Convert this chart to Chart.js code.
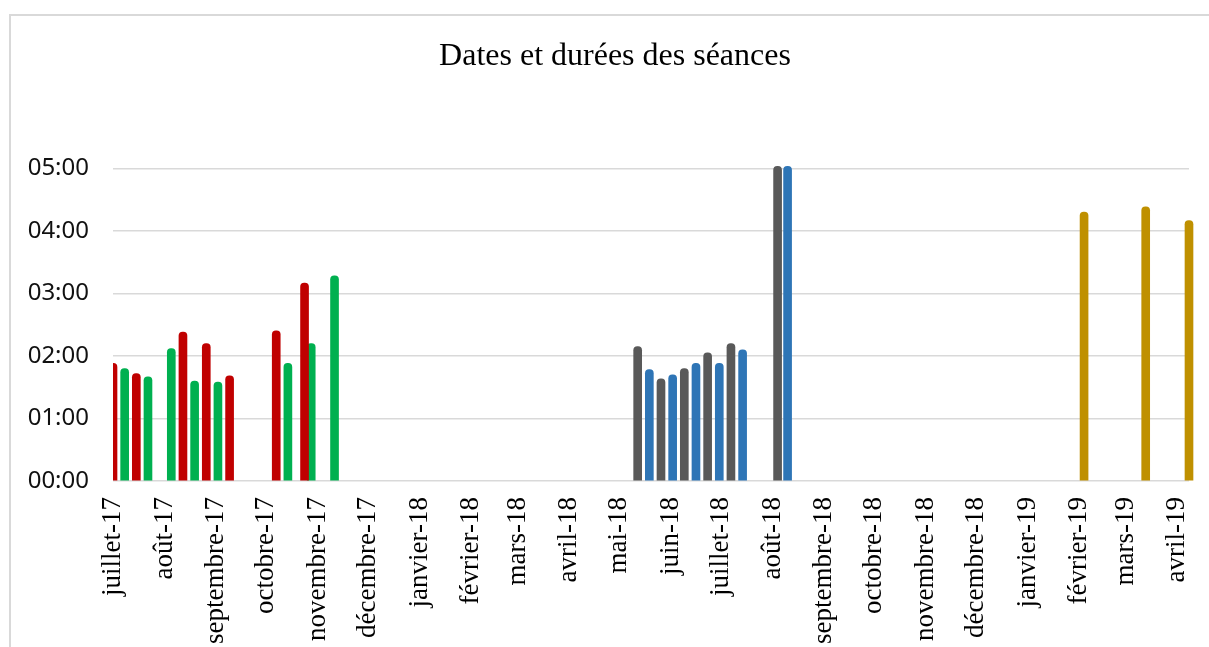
<!DOCTYPE html>
<html>
<head>
<meta charset="utf-8">
<title>Dates et durées des séances</title>
<script src="https://cdn.jsdelivr.net/npm/chart.js@4/dist/chart.umd.min.js"></script>
<style>
html, body { margin: 0; padding: 0; background: #fff; overflow: hidden; }
#frame { position: absolute; left: 9px; top: 14px; width: 1300px; height: 700px; border: 2px solid #d9d9d9; }
#chart_canvas { position: absolute; left: 0; top: 0; }
</style>
</head>
<body>
<div id="frame"></div>
<canvas id="chart_canvas" width="1209" height="647"></canvas>
<script>
// month labels of the date axis (one tick on the 1st of each month, from juillet-17)
var monthLabels = ['juillet-17', 'août-17', 'septembre-17', 'octobre-17', 'novembre-17', 'décembre-17',
	'janvier-18', 'février-18', 'mars-18', 'avril-18', 'mai-18', 'juin-18', 'juillet-18', 'août-18',
	'septembre-18', 'octobre-18', 'novembre-18', 'décembre-18', 'janvier-19', 'février-19', 'mars-19', 'avril-19'];

// séances, dates and durations (h:mm)
var redDates = ['2017-07-01', '2017-07-15', '2017-08-12', '2017-08-26', '2017-09-09', '2017-10-07', '2017-10-24'];
var redTimes = ['1:53', '1:43', '2:23', '2:12', '1:41', '2:24', '3:10'];

var greenDates = ['2017-07-08', '2017-07-22', '2017-08-05', '2017-08-19', '2017-09-02', '2017-10-14', '2017-10-28', '2017-11-11'];
var greenTimes = ['1:48', '1:40', '2:07', '1:36', '1:35', '1:53', '2:12', '3:17'];

var grayDates = ['2018-05-12', '2018-05-26', '2018-06-09', '2018-06-23', '2018-07-07', '2018-08-04'];
var grayTimes = ['2:09', '1:38', '1:48', '2:03', '2:12', '5:02'];

var blueDates = ['2018-05-19', '2018-06-02', '2018-06-16', '2018-06-30', '2018-07-14', '2018-08-10'];
var blueTimes = ['1:47', '1:42', '1:53', '1:53', '2:06', '5:02'];

var goldDates = ['2019-02-04', '2019-03-13', '2019-04-08'];
var goldTimes = ['4:18', '4:23', '4:10'];

var hourTicks = [0, 1, 2, 3, 4, 5];

var ORIGIN = Date.UTC(2017, 6, 1);

function dayNumber(d) {
	var p = d.split('-');
	return (Date.UTC(+p[0], +p[1] - 1, +p[2]) - ORIGIN) / 86400000;
}

function hours(t) {
	var p = t.split(':');
	return +p[0] + (+p[1]) / 60;
}

function points(dates, times) {
	return dates.map(function (d, i) {
		return { x: dayNumber(d), y: hours(times[i]) };
	});
}

var monthTicks = monthLabels.map(function (l, i) {
	return (Date.UTC(2017, 6 + i, 1) - ORIGIN) / 86400000;
});

var lastDay = dayNumber(goldDates[goldDates.length - 1]);

function serie(label, color, dates, times) {
	return {
		label: label,
		data: points(dates, times),
		backgroundColor: color,
		borderRadius: 4,
		grouped: false,
		barThickness: 8,
		maxBarThickness: 8,
		clip: { left: 0, top: false, right: false, bottom: 0 }
	};
}

// the excel frame goes past the right edge, so the title is centred a bit more to the right
var titleShift = {
	id: 'titleShift',
	afterLayout: function (chart) {
		if (chart.titleBlock) {
			chart.titleBlock.left = 20;
			chart.titleBlock.right = 1210;
		}
	}
};

var chartConfig = {
	type: 'bar',
	data: {
		datasets: [
			serie('rouge', '#C00000', redDates, redTimes),
			serie('vert', '#00B050', greenDates, greenTimes),
			serie('gris', '#595959', grayDates, grayTimes),
			serie('bleu', '#2E75B6', blueDates, blueTimes),
			serie('or', '#BF9000', goldDates, goldTimes)
		]
	},
	plugins: [titleShift],
	options: {
		responsive: false,
		animation: false,
		layout: { padding: { left: 0, right: 20, top: 0, bottom: 0 } },
		plugins: {
			legend: { display: false },
			tooltip: { enabled: false },
			title: {
				display: true,
				text: 'Dates et durées des séances',
				color: '#000',
				font: { family: '"Liberation Serif", "Times New Roman", serif', size: 32, weight: 'normal' },
				padding: { top: 37, bottom: 93 }
			}
		},
		scales: {
			x: {
				type: 'linear',
				min: 0,
				max: lastDay,
				offset: false,
				grid: { display: false, drawTicks: false },
				border: { display: false },
				afterBuildTicks: function (scale) {
					scale.ticks = monthTicks.map(function (v) { return { value: v }; });
				},
				afterFit: function (scale) {
					scale.height = 166;
					scale.paddingLeft = 0;
					scale.paddingRight = 0;
				},
				ticks: {
					autoSkip: false,
					minRotation: 90,
					maxRotation: 90,
					padding: 16,
					color: '#000',
					font: { family: '"Liberation Serif", "Times New Roman", serif', size: 27 },
					callback: function (v) {
						var i = monthTicks.indexOf(v);
						return i >= 0 ? monthLabels[i] : '';
					}
				}
			},
			y: {
				min: 0,
				max: 5,
				afterBuildTicks: function (scale) {
					scale.ticks = hourTicks.map(function (v) { return { value: v }; });
				},
				afterFit: function (scale) {
					scale.width = 113;
				},
				grid: { color: '#d9d9d9', lineWidth: 1.5, drawTicks: false },
				border: { display: false },
				ticks: {
					padding: 24,
					color: '#111',
					font: { family: '"Noto Sans", sans-serif', size: 24 },
					callback: function (v) {
						return (v < 10 ? '0' : '') + v + ':00';
					}
				}
			}
		}
	}
};

var ctx = document.getElementById('chart_canvas').getContext('2d');
var seancesChart = new Chart(ctx, chartConfig);
</script>
</body>
</html>
